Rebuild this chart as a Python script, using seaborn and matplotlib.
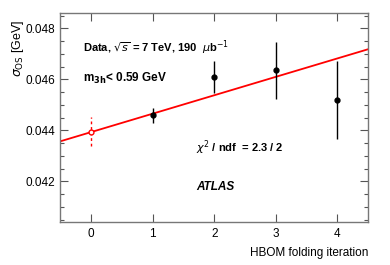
import numpy as np
import matplotlib
matplotlib.use("Agg")
import matplotlib.pyplot as plt
import seaborn as sns
from matplotlib.ticker import MultipleLocator

# Data
iterations = [1, 2, 3, 4]
sigma_os = [0.04459, 0.04608, 0.04635, 0.04518]
sigma_err = [0.00030, 0.00063, 0.00111, 0.00153]

extrap_x = [0]
extrap_y = [0.04395]
extrap_err = [0.00056]

fit_intercept = 0.04393
fit_slope = 0.000722

sns.set_theme(style="ticks", rc={'text.color': 'black',
                                 'axes.labelcolor': 'black',
                                 'xtick.labelcolor': 'black',
                                 'ytick.labelcolor': 'black'})
plt.rcParams['font.family'] = ['Liberation Sans', 'DejaVu Sans']

fig, ax = plt.subplots(figsize=(3.9, 2.65), dpi=100)
fig.subplots_adjust(left=0.155, right=0.944, top=0.951, bottom=0.162)

# fit line
fit_x = np.array([-0.5, 4.5])
sns.lineplot(x=fit_x, y=fit_intercept + fit_slope * fit_x, ax=ax,
             color='red', linewidth=1.3, zorder=2)

# measured points
ax.errorbar(iterations, sigma_os, yerr=sigma_err, fmt='o', color='black',
            markersize=3.5, elinewidth=1.0, capsize=0, zorder=3)

# extrapolated point
eb = ax.errorbar(extrap_x, extrap_y, yerr=extrap_err, fmt='o', mfc='white',
                 mec='red', color='red', markersize=3.5, elinewidth=1.0,
                 capsize=0, zorder=3)
eb[2][0].set_linestyle((0, (2, 2)))

ax.set_xlim(-0.5, 4.5)
ax.set_ylim(0.0404, 0.0486)
ax.set_xticks([0, 1, 2, 3, 4])
ax.yaxis.set_major_locator(MultipleLocator(0.002))
ax.yaxis.set_minor_locator(MultipleLocator(0.0005))
ax.set_yticks([0.042, 0.044, 0.046, 0.048])
ax.set_yticklabels(['0.042', '0.044', '0.046', '0.048'])

ax.tick_params(axis='both', which='major', direction='in', length=6,
               width=0.8, color='#555555', labelsize=8.5, top=True, right=True)
ax.tick_params(axis='y', which='minor', direction='in', length=3,
               width=0.8, color='#555555', right=True, left=True)
ax.tick_params(axis='x', which='major', pad=4)
for s in ax.spines.values():
    s.set_color('#777777')
    s.set_linewidth(1.0)

ax.set_ylabel(r'$\sigma_{\mathrm{OS}}$ [GeV]', fontsize=9, labelpad=2)
ax.yaxis.set_label_coords(-0.112, 0.83)
ax.set_xlabel('HBOM folding iteration', fontsize=8.5, ha='right')
ax.xaxis.set_label_coords(1.0, -0.12)

ax.text(0.072, 0.835, r'Data, $\sqrt{s}$ = 7 TeV, 190  $\mu$b$^{-1}$',
        transform=ax.transAxes, fontsize=8, fontweight='bold',
        va='center', ha='left')
ax.text(0.072, 0.685, r'm$_{\mathbf{3h}}$< 0.59 GeV',
        transform=ax.transAxes, fontsize=8.5, fontweight='bold',
        va='center', ha='left')
ax.text(0.44, 0.355, r'$\chi^2$ / ndf  = 2.3 / 2', transform=ax.transAxes,
        fontsize=8, fontweight='bold', va='center', ha='left')
ax.text(0.44, 0.17, 'ATLAS', transform=ax.transAxes, fontsize=8.5,
        fontweight='bold', fontstyle='italic', va='center', ha='left')

fig.savefig('out.png', dpi=100)
